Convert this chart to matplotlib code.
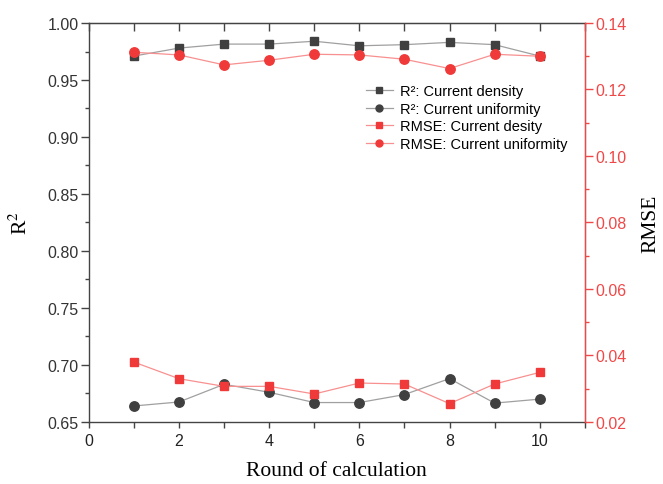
import matplotlib
matplotlib.use("Agg")
import matplotlib.pyplot as plt
from matplotlib.ticker import MultipleLocator

rounds = [1, 2, 3, 4, 5, 6, 7, 8, 9, 10]
r2_density = [0.971, 0.978, 0.9815, 0.9815, 0.984, 0.980, 0.981, 0.983, 0.981, 0.971]
r2_uniformity = [0.664, 0.6675, 0.683, 0.676, 0.667, 0.667, 0.674, 0.688, 0.6665, 0.670]
rmse_density = [0.0380, 0.0330, 0.0307, 0.0307, 0.0284, 0.0317, 0.0314, 0.0255, 0.0314, 0.0349]
rmse_uniformity = [0.1312, 0.1304, 0.1274, 0.1288, 0.1306, 0.1304, 0.1291, 0.1263, 0.1306, 0.1300]

labels = ["R²: Current density", "R²: Current uniformity",
          "RMSE: Current desity", "RMSE: Current uniformity"]

sans = ["Liberation Sans", "DejaVu Sans"]
serif = ["Liberation Serif", "DejaVu Serif"]
plt.rcParams["font.family"] = sans
plt.rcParams["mathtext.fontset"] = "stix"

dark = "#404040"
gline = "#a0a0a0"
red = "#f03a3a"
rline = "#f89090"
tickc = "#444444"
red_axis = "#f04848"

fig = plt.figure(figsize=(6.63, 4.85), dpi=100)
ax = fig.add_axes([0.134, 0.128, 0.748, 0.8225])
ax2 = ax.twinx()

h1, = ax.plot(rounds, r2_density, color=gline, lw=0.9, marker="s", ms=6,
              mfc=dark, mec=dark, label=labels[0])
h2, = ax.plot(rounds, r2_uniformity, color=gline, lw=0.9, marker="o", ms=6.8,
              mfc=dark, mec=dark, label=labels[1])
h3, = ax2.plot(rounds, rmse_density, color=rline, lw=0.9, marker="s", ms=6,
               mfc=red, mec=red, label=labels[2])
h4, = ax2.plot(rounds, rmse_uniformity, color=rline, lw=0.9, marker="o", ms=6.8,
               mfc=red, mec=red, label=labels[3])

ax.set_xlim(0, 11)
ax.set_ylim(0.65, 1.00)
ax2.set_ylim(0.02, 0.14)

ax.xaxis.set_major_locator(MultipleLocator(2))
ax.xaxis.set_minor_locator(MultipleLocator(1))
ax.yaxis.set_major_locator(MultipleLocator(0.05))
ax.yaxis.set_minor_locator(MultipleLocator(0.025))
ax2.yaxis.set_major_locator(MultipleLocator(0.02))
ax2.yaxis.set_minor_locator(MultipleLocator(0.01))
ax.yaxis.set_major_formatter(plt.FormatStrFormatter("%.2f"))
ax2.yaxis.set_major_formatter(plt.FormatStrFormatter("%.2f"))

for s in ["left", "bottom", "top"]:
    ax.spines[s].set_color(tickc)
    ax.spines[s].set_linewidth(1.0)
ax2.spines["right"].set_color(red_axis)
ax2.spines["right"].set_linewidth(1.0)
ax2.spines["left"].set_visible(False)
ax2.spines["top"].set_visible(False)
ax2.spines["bottom"].set_visible(False)

ax.tick_params(axis="y", which="major", direction="out", length=5.5, width=1,
               color=tickc, labelcolor="#333333", labelsize=11.5, pad=2)
ax.tick_params(axis="y", which="minor", direction="out", length=3, width=1, color=tickc)
ax.tick_params(axis="x", which="major", direction="out", length=4, width=1,
               color=tickc, labelcolor="#222222", labelsize=11.5, pad=4)
ax.tick_params(axis="x", which="minor", direction="out", length=4, width=1, color=tickc)

top = ax.secondary_xaxis("top")
top.xaxis.set_major_locator(MultipleLocator(1))
top.tick_params(axis="x", which="major", direction="in", length=6, width=1,
                color=tickc, labeltop=False)
top.spines["top"].set_color(tickc)

ax2.tick_params(axis="y", which="major", direction="out", length=5.5, width=1,
                color=red_axis, labelcolor=red_axis, labelsize=11.5, pad=2)
ax2.tick_params(axis="y", which="minor", direction="out", length=3, width=1, color=red_axis)

ax.set_xlabel("Round of calculation", fontsize=15.5, family=serif, labelpad=9)
ax.set_ylabel("R$^2$", fontsize=15.5, family=serif, labelpad=11)
ax2.set_ylabel("RMSE", fontsize=15.5, family=serif, labelpad=11)

leg = fig.legend(handles=[h1, h2, h3, h4], loc="upper left",
                 bbox_to_anchor=(366 / 663, 1 - 85 / 485), frameon=False,
                 fontsize=10.5, handlelength=1.85, handletextpad=0.45,
                 labelspacing=0.25, borderpad=0, borderaxespad=0)
for lh in leg.legend_handles:
    lh.set_markersize(5)

fig.savefig("out.png", dpi=100)
